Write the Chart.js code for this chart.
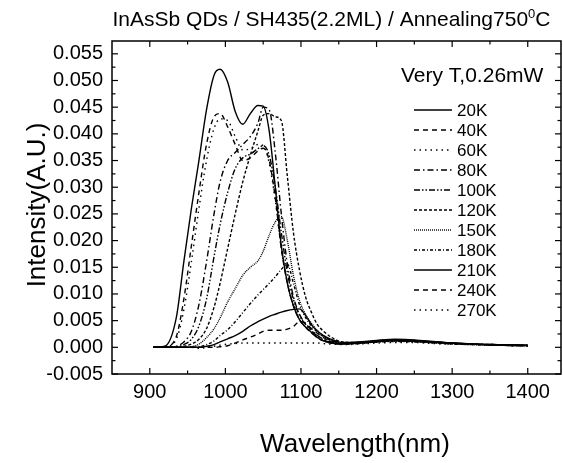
<!DOCTYPE html>
<html>
<head>
<meta charset="utf-8">
<script src="https://cdn.jsdelivr.net/npm/chart.js@4.4.1/dist/chart.umd.min.js"></script>
<style>
  body { margin: 0; background: #fff; }
  #plChart { display: block; }
</style>
</head>
<body>
<canvas id="plChart" width="563" height="463"></canvas>
<script>
// wavelength grid (nm), shared by every spectrum
const wavelength = [905, 920, 935, 945, 955, 965, 975, 985, 993, 1003, 1013, 1023, 1033, 1043, 1050, 1058, 1066, 1074, 1082, 1090, 1098, 1106, 1114, 1122, 1130, 1140, 1155, 1175, 1200, 1225, 1250, 1275, 1300, 1330, 1360, 1400];

// PL intensity (A.U.) per temperature
const k20  = [0.0000, 0.0002, 0.0055, 0.0160, 0.0260, 0.0350, 0.0445, 0.0510, 0.0521, 0.0497, 0.0442, 0.0418, 0.0438, 0.0453, 0.0452, 0.0405, 0.0300, 0.0190, 0.0120, 0.0078, 0.0052, 0.0038, 0.0028, 0.0018, 0.0012, 0.0008, 0.0006, 0.0008, 0.0012, 0.0014, 0.0013, 0.0010, 0.0008, 0.0006, 0.0005, 0.0004];
const k40  = [0.0000, 0.0001, 0.0020, 0.0090, 0.0190, 0.0290, 0.0380, 0.0432, 0.0438, 0.0413, 0.0380, 0.0350, 0.0355, 0.0368, 0.0373, 0.0350, 0.0280, 0.0185, 0.0120, 0.0078, 0.0052, 0.0038, 0.0027, 0.0018, 0.0012, 0.0008, 0.0006, 0.0007, 0.0010, 0.0012, 0.0011, 0.0009, 0.0007, 0.0006, 0.0004, 0.0003];
const k60  = [0.0000, 0.0001, 0.0015, 0.0070, 0.0160, 0.0260, 0.0350, 0.0410, 0.0428, 0.0425, 0.0395, 0.0370, 0.0372, 0.0380, 0.0378, 0.0345, 0.0275, 0.0185, 0.0120, 0.0078, 0.0052, 0.0038, 0.0027, 0.0018, 0.0012, 0.0008, 0.0006, 0.0007, 0.0011, 0.0013, 0.0012, 0.0009, 0.0007, 0.0005, 0.0004, 0.0003];
const k80  = [0.0000, 0.0000, 0.0002, 0.0010, 0.0030, 0.0080, 0.0160, 0.0250, 0.0310, 0.0350, 0.0365, 0.0380, 0.0395, 0.0420, 0.0450, 0.0445, 0.0365, 0.0250, 0.0155, 0.0095, 0.0062, 0.0045, 0.0032, 0.0022, 0.0015, 0.0010, 0.0007, 0.0008, 0.0011, 0.0013, 0.0012, 0.0010, 0.0008, 0.0006, 0.0004, 0.0003];
const k100 = [0.0000, 0.0000, 0.0001, 0.0005, 0.0015, 0.0040, 0.0090, 0.0170, 0.0230, 0.0290, 0.0335, 0.0355, 0.0362, 0.0372, 0.0378, 0.0360, 0.0300, 0.0215, 0.0140, 0.0090, 0.0060, 0.0043, 0.0031, 0.0021, 0.0014, 0.0009, 0.0007, 0.0008, 0.0011, 0.0013, 0.0012, 0.0010, 0.0008, 0.0006, 0.0004, 0.0003];
const k120 = [0.0000, 0.0000, 0.0000, 0.0002, 0.0006, 0.0015, 0.0035, 0.0075, 0.0120, 0.0185, 0.0250, 0.0310, 0.0360, 0.0405, 0.0435, 0.0438, 0.0432, 0.0425, 0.0320, 0.0215, 0.0145, 0.0095, 0.0065, 0.0042, 0.0030, 0.0019, 0.0010, 0.0009, 0.0011, 0.0013, 0.0012, 0.0010, 0.0008, 0.0006, 0.0005, 0.0004];
const k150 = [0.0000, 0.0000, 0.0000, 0.0000, 0.0001, 0.0006, 0.0018, 0.0035, 0.0055, 0.0085, 0.0110, 0.0135, 0.0150, 0.0162, 0.0180, 0.0210, 0.0235, 0.0245, 0.0200, 0.0135, 0.0088, 0.0062, 0.0045, 0.0031, 0.0021, 0.0013, 0.0008, 0.0008, 0.0010, 0.0012, 0.0011, 0.0009, 0.0007, 0.0005, 0.0004, 0.0003];
const k180 = [0.0000, 0.0000, 0.0000, 0.0000, 0.0000, 0.0001, 0.0005, 0.0012, 0.0022, 0.0033, 0.0048, 0.0065, 0.0082, 0.0098, 0.0108, 0.0120, 0.0132, 0.0146, 0.0156, 0.0120, 0.0080, 0.0056, 0.0040, 0.0028, 0.0020, 0.0013, 0.0008, 0.0008, 0.0010, 0.0011, 0.0010, 0.0008, 0.0006, 0.0005, 0.0004, 0.0003];
const k210 = [0.0000, 0.0000, 0.0000, 0.0000, 0.0000, 0.0000, 0.0002, 0.0005, 0.0010, 0.0016, 0.0022, 0.0030, 0.0040, 0.0048, 0.0053, 0.0058, 0.0062, 0.0066, 0.0069, 0.0071, 0.0072, 0.0060, 0.0042, 0.0030, 0.0022, 0.0015, 0.0009, 0.0010, 0.0013, 0.0015, 0.0014, 0.0011, 0.0008, 0.0006, 0.0005, 0.0004];
const k240 = [0.0000, 0.0000, 0.0000, 0.0000, 0.0000, 0.0000, 0.0000, 0.0000, 0.0001, 0.0003, 0.0008, 0.0014, 0.0019, 0.0025, 0.0030, 0.0032, 0.0032, 0.0032, 0.0034, 0.0039, 0.0048, 0.0045, 0.0035, 0.0026, 0.0018, 0.0012, 0.0008, 0.0009, 0.0011, 0.0012, 0.0011, 0.0009, 0.0007, 0.0006, 0.0004, 0.0003];
const k270 = [0.0000, 0.0000, 0.0000, 0.0000, 0.0000, -0.0002, 0.0000, 0.0002, 0.0004, 0.0006, 0.0007, 0.0008, 0.0008, 0.0008, 0.0008, 0.0008, 0.0008, 0.0008, 0.0008, 0.0008, 0.0008, 0.0008, 0.0008, 0.0008, 0.0007, 0.0006, 0.0005, 0.0006, 0.0008, 0.0009, 0.0009, 0.0007, 0.0006, 0.0005, 0.0004, 0.0003];

const seriesLabels = ['20K', '40K', '60K', '80K', '100K', '120K', '150K', '180K', '210K', '240K', '270K'];
const seriesValues = [k20, k40, k60, k80, k100, k120, k150, k180, k210, k240, k270];
const seriesDash = [[], [5, 4], [1.5, 4], [6, 3, 1.5, 3], [6, 2, 1.5, 2, 1.5, 2], [3, 2], [1, 1], [3, 2, 1, 2], [], [5, 4], [1.5, 4]];

const xTicks = [900, 1000, 1100, 1200, 1300, 1400];
const xMinor = [950, 1050, 1150, 1250, 1350];
const yTicks = [-0.005, 0, 0.005, 0.01, 0.015, 0.02, 0.025, 0.03, 0.035, 0.04, 0.045, 0.05, 0.055];

const FONT = '"Liberation Sans", Arial, sans-serif';

const datasets = seriesValues.map((vals, i) => ({
    label: seriesLabels[i],
    data: wavelength.map((w, j) => ({ x: w, y: vals[j] })),
    borderColor: '#000',
    borderWidth: 1.4,
    borderDash: seriesDash[i],
    pointRadius: 0,
    fill: false,
    cubicInterpolationMode: 'monotone'
}));

// frame, inward ticks, titles and legend
const decor = {
    id: 'decor',
    afterDraw(chart) {
        const ctx = chart.ctx;
        const a = chart.chartArea;
        const xs = chart.scales.x, ys = chart.scales.y;
        ctx.save();
        ctx.strokeStyle = '#000';
        ctx.lineWidth = 1.5;
        ctx.setLineDash([]);
        ctx.strokeRect(a.left, a.top, a.right - a.left, a.bottom - a.top);

        const tick = (x1, y1, x2, y2) => {
            ctx.beginPath(); ctx.moveTo(x1, y1); ctx.lineTo(x2, y2); ctx.stroke();
        };
        ctx.lineWidth = 1.2;
        xTicks.forEach(v => {
            const px = xs.getPixelForValue(v);
            tick(px, a.bottom, px, a.bottom - 6);
            tick(px, a.top, px, a.top + 6);
        });
        xMinor.forEach(v => {
            const px = xs.getPixelForValue(v);
            tick(px, a.bottom, px, a.bottom - 3.5);
            tick(px, a.top, px, a.top + 3.5);
        });
        yTicks.forEach(v => {
            const py = ys.getPixelForValue(v);
            tick(a.left, py, a.left + 6, py);
            tick(a.right, py, a.right - 6, py);
            const pm = ys.getPixelForValue(v + 0.0025);
            if (pm > a.top + 2) {
                tick(a.left, pm, a.left + 3.5, pm);
                tick(a.right, pm, a.right - 3.5, pm);
            }
        });

        ctx.fillStyle = '#000';
        ctx.textBaseline = 'alphabetic';
        ctx.textAlign = 'left';

        // title with superscript degree
        const mainT = 'InAsSb QDs / SH435(2.2ML) / Annealing750';
        ctx.font = '21px ' + FONT;
        const w1 = ctx.measureText(mainT).width;
        const wC = ctx.measureText('C').width;
        ctx.font = '13px ' + FONT;
        const wS = ctx.measureText('0').width;
        let tx = 331.5 - (w1 + wS + wC) / 2;
        ctx.font = '21px ' + FONT;
        ctx.fillText(mainT, tx, 26);
        ctx.font = '13px ' + FONT;
        ctx.fillText('0', tx + w1, 18);
        ctx.font = '21px ' + FONT;
        ctx.fillText('C', tx + w1 + wS, 26);

        // axis titles
        ctx.font = '26px ' + FONT;
        ctx.textAlign = 'center';
        ctx.fillText('Wavelength(nm)', 355, 452);
        ctx.save();
        ctx.translate(45, 205);
        ctx.rotate(-Math.PI / 2);
        ctx.fillText('Intensity(A.U.)', 0, 0);
        ctx.restore();

        // legend
        ctx.textAlign = 'left';
        ctx.font = '21px ' + FONT;
        ctx.fillText('Very T,0.26mW', 401, 82);
        ctx.font = '17px ' + FONT;
        ctx.textBaseline = 'middle';
        chart.data.datasets.forEach((ds, i) => {
            const ly = 110 + 20 * i;
            ctx.lineWidth = ds.borderWidth;
            ctx.setLineDash(ds.borderDash);
            tick(414, ly, 452, ly);
            ctx.setLineDash([]);
            ctx.fillText(ds.label, 457, ly + 1);
        });
        ctx.restore();
    }
};

new Chart(document.getElementById('plChart'), {
    type: 'line',
    data: { datasets },
    options: {
        responsive: false,
        animation: false,
        layout: { padding: { top: 41, right: 2, left: 0, bottom: 0 } },
        plugins: { legend: { display: false }, title: { display: false }, tooltip: { enabled: false } },
        scales: {
            x: {
                type: 'linear',
                min: 850,
                max: 1444,
                grid: { display: false, drawTicks: false },
                border: { display: false },
                ticks: { color: '#000', font: { family: FONT, size: 20 }, padding: 6, callback: v => String(v) },
                afterBuildTicks: s => { s.ticks = xTicks.map(v => ({ value: v })); },
                afterFit: s => { s.height = 89; }
            },
            y: {
                type: 'linear',
                min: -0.005,
                max: 0.0574,
                grid: { display: false, drawTicks: false },
                border: { display: false },
                ticks: { color: '#000', font: { family: FONT, size: 20 }, padding: 9, callback: v => v.toFixed(3) },
                afterBuildTicks: s => { s.ticks = yTicks.map(v => ({ value: v })); },
                afterFit: s => { s.width = 112; }
            }
        }
    },
    plugins: [decor]
});
</script>
</body>
</html>
